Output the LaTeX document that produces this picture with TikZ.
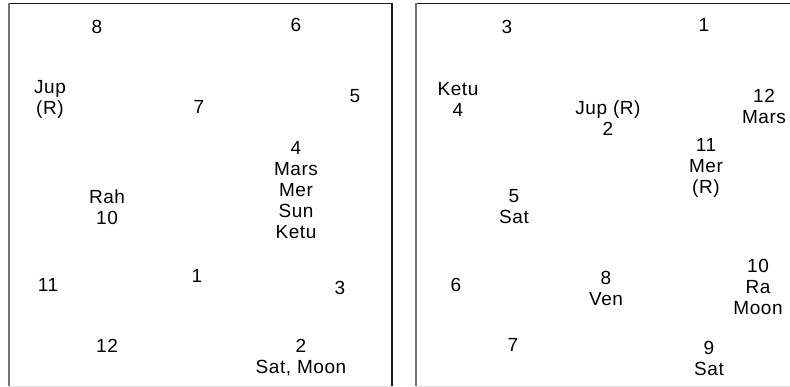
\documentclass[tikz,border=0pt]{standalone}
\usepackage{fontspec}
\setmainfont[LetterSpace=3]{Liberation Sans}
\usetikzlibrary{positioning}

\begin{document}
\begin{tikzpicture}[
      x=1pt, y=-1pt,
      every node/.style={font=\fontsize{19}{21}\selectfont},
      house/.style={align=center, inner sep=0pt},
      edge/.style={line width=1.1pt, draw=black!90},
      side/.style={line width=2pt, draw=black!55},
      base/.style={line width=1pt, draw=black!12}
    ]
      \useasboundingbox (0,0) rectangle (790,387);
      % left chart
      \draw[edge] (8,3.5) -- (392,3.5) -- (392,386);
      \draw[side] (9,3) -- (9,386);
      \draw[base] (9,386) -- (392,386);
      \node[house] (l8) at (97,27) {8};
      \node[house] (l6) at (296,25) {6};
      \node[house] (ljup) at (50,99) {Jup\\(R)};
      \node[house] (l7) at (199,107) {7};
      \node[house] (l5) at (355,96) {5};
      \node[house] (l4) at (296,190) {4\\Mars\\Mer\\Sun\\Ketu};
      \node[house] (l10) at (107,207) {Rah\\10};
      \node[house] (l11) at (48,285) {11};
      \node[house] (l1) at (197,276) {1};
      \node[house] (l3) at (340,288) {3};
      \node[house] (l12) at (107,346) {12};
      \node[house] (l2) at (301,358) {2\\Sat,\ Moon};
      % right chart
      \draw[edge] (415,3.5) -- (790,3.5);
      \draw[side] (416,3) -- (416,386);
      \draw[base] (416,386) -- (790,386);
      \node[house] (r3) at (507,27) {3};
      \node[house] (r1) at (704,25) {1};
      \node[house] (r4) at (458,99) {Ketu\\4};
      \node[house] (r2) at (608,118) {Jup (R)\\2};
      \node[house] (r12) at (764,106) {12\\Mars};
      \node[house] (r11) at (706,168) {11\\Mer\\(R)};
      \node[house] (r5) at (514,207) {5\\Sat};
      \node[house] (r6) at (456,285) {6};
      \node[house] (r8) at (606,288) {8\\Ven};
      \node[house] (r10) at (758,287) {10\\Ra\\Moon};
      \node[house] (r7) at (513,345) {7};
      \node[house] (r9) at (709,358) {9\\Sat};
\end{tikzpicture}
\end{document}
